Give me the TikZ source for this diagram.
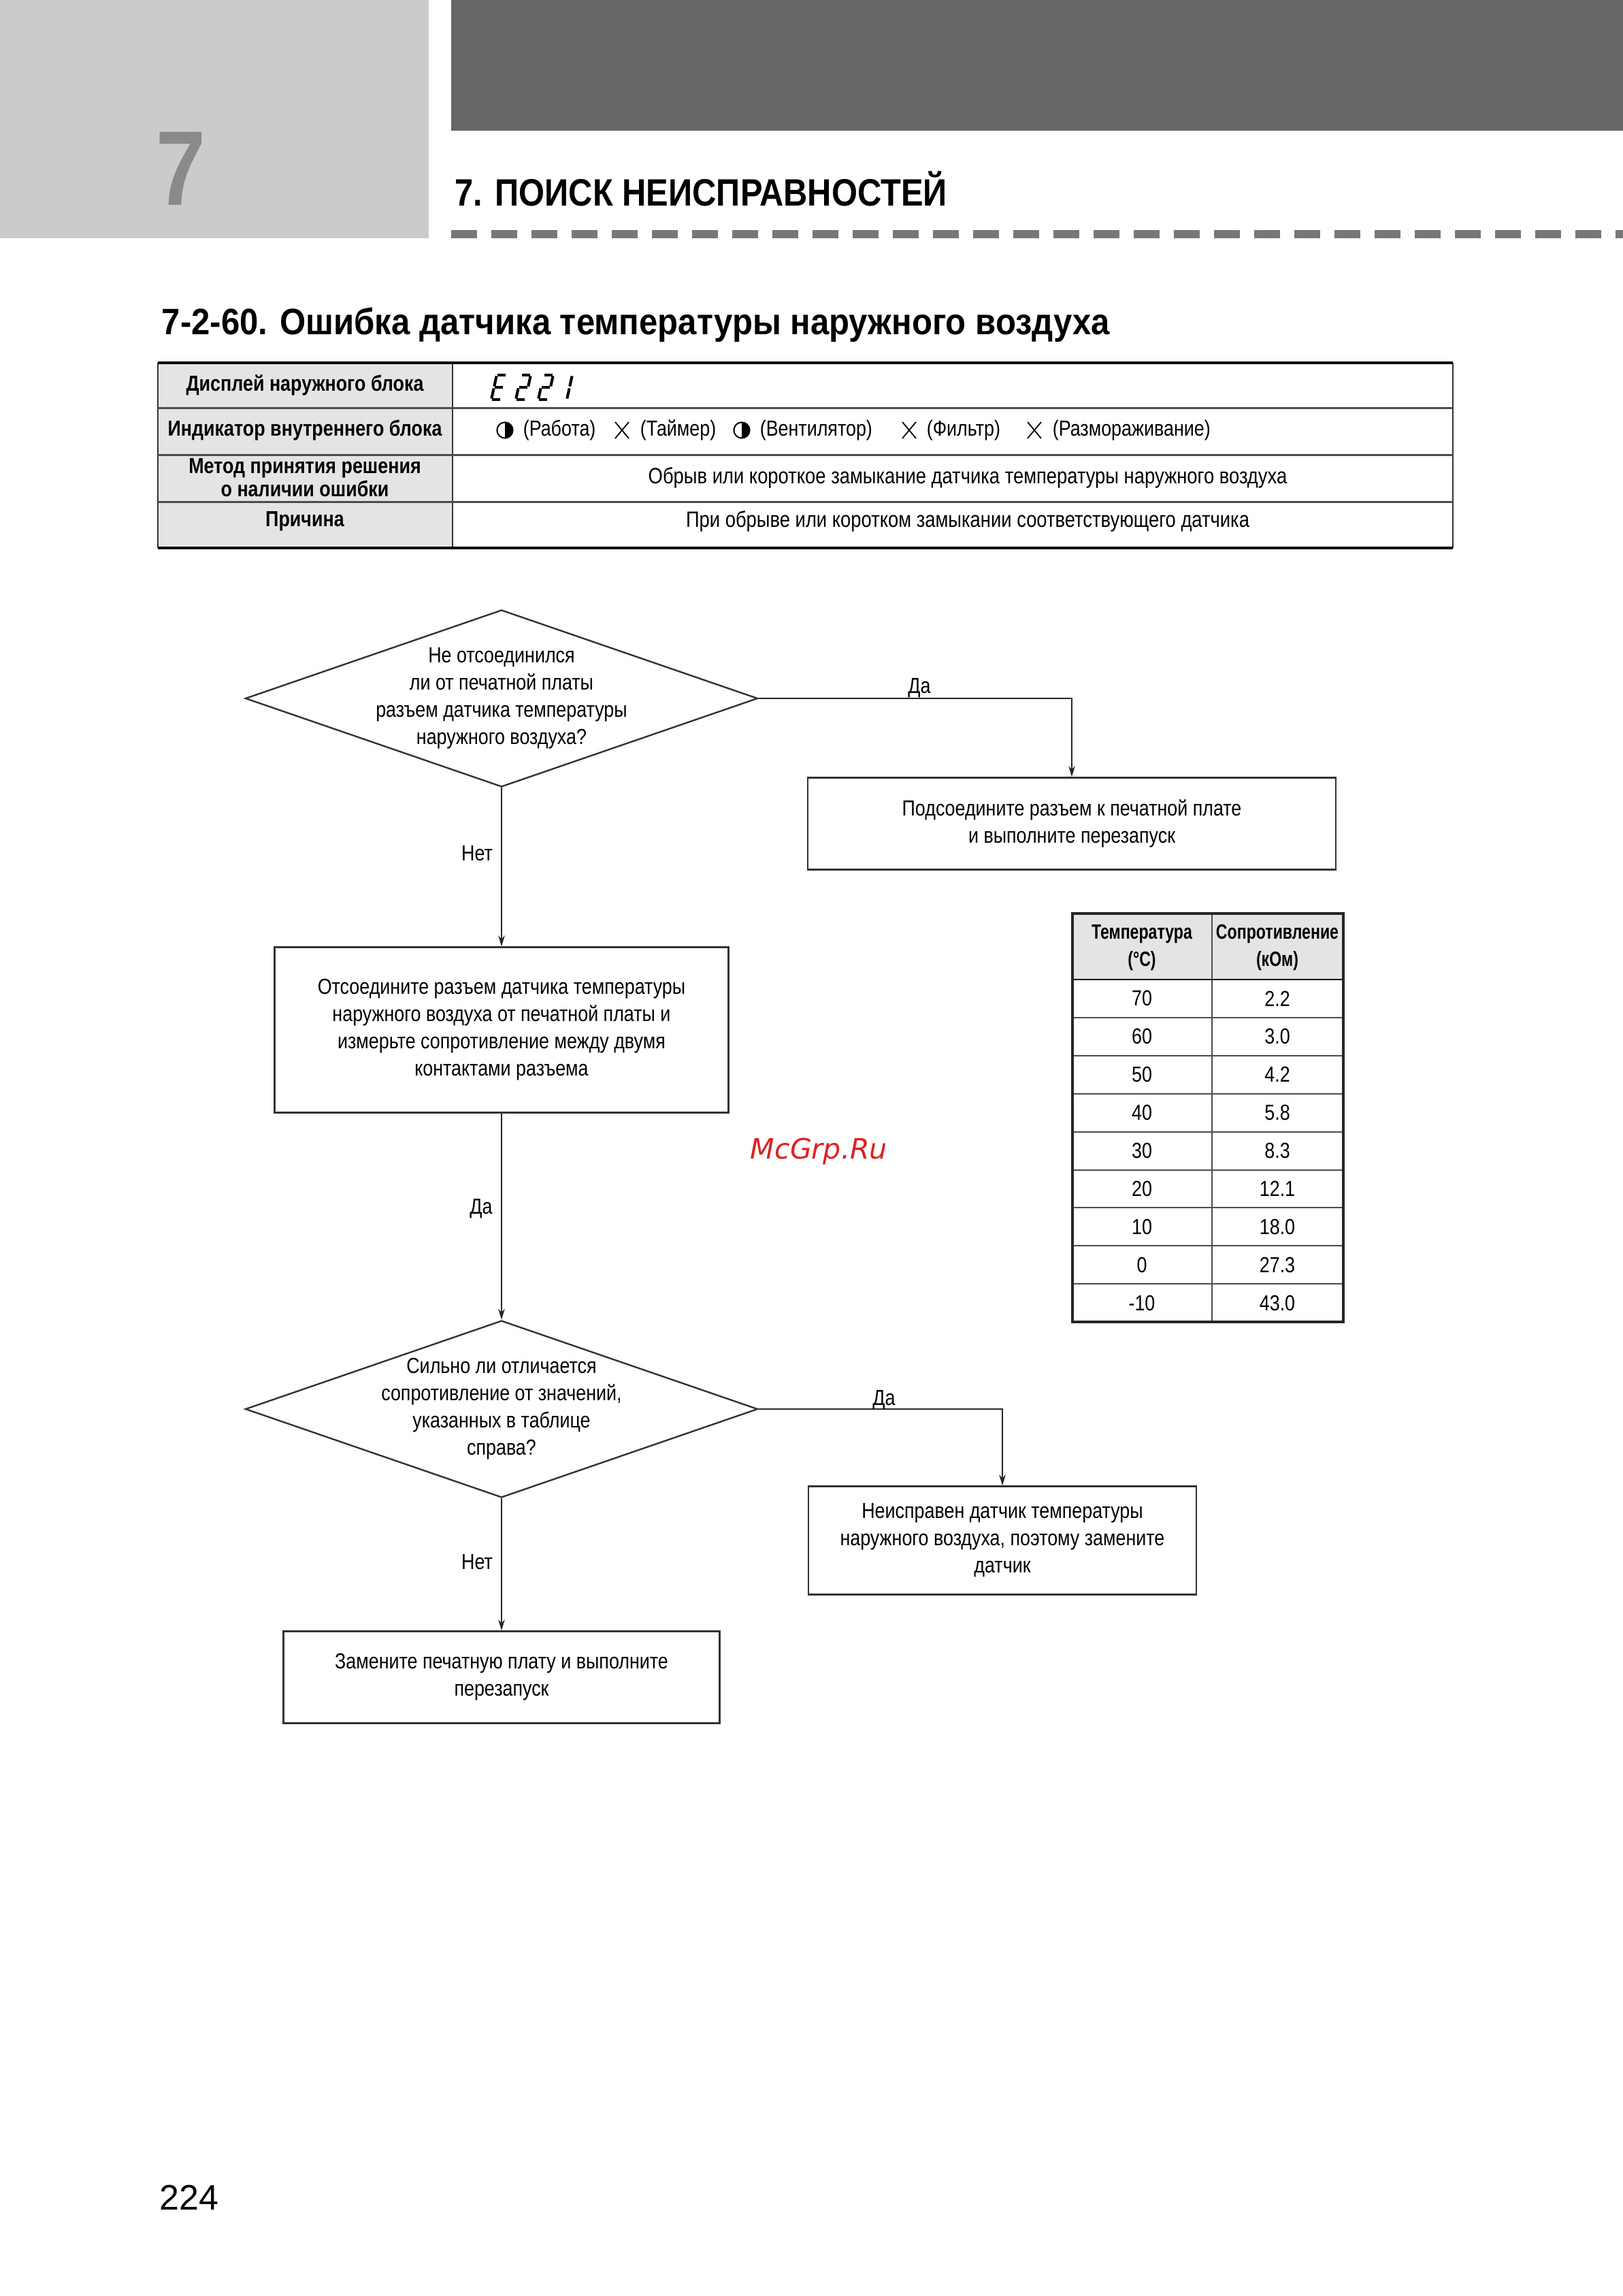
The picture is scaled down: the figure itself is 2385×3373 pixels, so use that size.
\documentclass[tikz,border=0pt]{standalone}
\usepackage{fontspec}
\usepackage{graphicx}
\setmainfont{Liberation Sans}
\newfontfamily\cond{Liberation Sans}[FakeStretch=0.84]
\newfontfamily\condx{Liberation Sans}[FakeStretch=0.76]
\newfontfamily\wmfont{DejaVu Sans}
\usetikzlibrary{shapes.geometric,arrows.meta}
\newlength\px
\setlength\px{0.25pt}
\definecolor{lightgr}{HTML}{CBCBCB}
\definecolor{darkgr}{HTML}{666666}
\definecolor{numgr}{HTML}{8A8A8A}
\definecolor{dashgr}{HTML}{777777}
\definecolor{hdrgr}{HTML}{E4E4E4}
\definecolor{wmred}{HTML}{DD2222}
\newcommand\digitE[1]{\begin{scope}[shift={(#1,587)},xslant=0.22]
 \draw[seg] (0,-36)--(14,-36); \draw[seg] (0,-36)--(0,-18); \draw[seg] (0,-18)--(14,-18);
 \draw[seg] (0,-18)--(0,0); \draw[seg] (0,0)--(14,0); \end{scope}}
\newcommand\digitTwo[1]{\begin{scope}[shift={(#1,587)},xslant=0.22]
 \draw[seg] (0,-36)--(14,-36); \draw[seg] (14,-36)--(14,-18); \draw[seg] (0,-18)--(14,-18);
 \draw[seg] (0,-18)--(0,0); \draw[seg] (0,0)--(14,0); \end{scope}}
\newcommand\digitOne[1]{\begin{scope}[shift={(#1,587)},xslant=0.22]
 \draw[seg] (14,-36)--(14,-18); \draw[seg] (14,-18)--(14,0); \end{scope}}
\newcommand\halfc[1]{\draw[line width=0.5pt] (#1,632) circle[radius=2.9pt];
 \fill (#1,620.4) arc[start angle=90,end angle=-90,radius=2.9pt] -- cycle;}
\newcommand\crossm[1]{\draw[line width=0.45pt] (#1-10,620)--(#1+10,644) (#1-10,644)--(#1+10,620);}
\begin{document}
\begin{tikzpicture}[x=0.25pt,y=-0.25pt,
  txt/.style={font=\cond\fontsize{8}{10}\selectfont, align=center, inner sep=0},
  wtxt/.style={font=\cond\fontsize{8.15}{10}\selectfont, align=center, inner sep=0},
  btxt/.style={font=\cond\bfseries\fontsize{8}{7}\selectfont, align=center, inner sep=0},
  htxt/.style={font=\condx\bfseries\fontsize{7.6}{10}\selectfont, align=center, inner sep=0},
  fbox/.style={draw=black!80, line width=0.6pt, inner sep=0, align=center, font=\cond\fontsize{8}{10}\selectfont},
  dia/.style={diamond, draw=black!80, line width=0.6pt, inner sep=0},
  arr/.style={draw=black!85, line width=0.5pt, -{Stealth[length=4pt,width=2.4pt]}},
  seg/.style={line width=1pt, shorten <=0.35pt, shorten >=0.35pt},
  rowline/.style={draw=black!70, line width=0.75pt},
  tblin/.style={draw=black!70, line width=0.5pt},
]
\useasboundingbox (0,0) rectangle (2385,3373);
% header
\fill[lightgr] (0,0) rectangle (630,350);
\fill[darkgr] (663,0) rectangle (2385,192);
\node[anchor=base, text=numgr, font=\cond\bfseries\fontsize{39}{39}\selectfont, inner sep=0] (chapnum) at (266,301) {7};
\node[anchor=base west, inner sep=0, font=\bfseries\fontsize{14}{14}\selectfont] (chaptitle) at (668,302) {\resizebox{723\px}{\height}{7. ПОИСК НЕИСПРАВНОСТЕЙ}};
\draw[dashgr, line width=3pt, dash pattern=on 9.5pt off 5.25pt] (663,344) -- (2385,344);
% section title
\node[anchor=base west, inner sep=0, font=\bfseries\fontsize{13.5}{14}\selectfont] (sectitle) at (237,491) {\resizebox{1393\px}{\height}{7-2-60. Ошибка датчика температуры наружного воздуха}};
% info table
\fill[hdrgr] (232,533) rectangle (665,805);
\draw[line width=0.5pt, black!80] (232,533) -- (232,805) (665,533) -- (665,805) (2135,533) -- (2135,805);
\draw[rowline] (232,599) -- (2135,599) (232,668) -- (2135,668) (232,737) -- (2135,737);
\draw[line width=1.1pt] (232,533) -- (2135,533) (232,805) -- (2135,805);
\node[btxt] (l1) at (448,566) {Дисплей наружного блока};
\node[btxt] (l2) at (448,632) {Индикатор внутреннего блока};
\node[btxt] (l3) at (448,702) {Метод принятия решения\\о наличии ошибки};
\node[btxt] (l4) at (448,766) {Причина};
\digitE{722}
\digitTwo{758}
\digitTwo{791}
\digitOne{819}
\halfc{742}
\node[txt, anchor=west] (s1) at (768,632) {(Работа)};
\crossm{914}
\node[txt, anchor=west] (s2) at (940,632) {(Таймер)};
\halfc{1090}
\node[txt, anchor=west] (s3) at (1116,632) {(Вентилятор)};
\crossm{1336}
\node[txt, anchor=west] (s4) at (1361,632) {(Фильтр)};
\crossm{1520}
\node[txt, anchor=west] (s5) at (1546,632) {(Размораживание)};
\node[wtxt] (r3) at (1422,702) {Обрыв или короткое замыкание датчика температуры наружного воздуха};
\node[wtxt] (r4) at (1422,766) {При обрыве или коротком замыкании соответствующего датчика};
% flowchart
\node[dia, minimum width=188.25pt, minimum height=65pt] (d1) at (737,1026) {};
\node[txt] (d1t) at (d1.center) {Не отсоединился\\ли от печатной платы\\разъем датчика температуры\\наружного воздуха?};
\node[fbox, minimum width=194pt, minimum height=33.75pt] (b1) at (1575,1210) {Подсоедините разъем к печатной плате\\и выполните перезапуск};
\node[fbox, minimum width=166.75pt, minimum height=60.75pt] (b2) at (737,1513) {Отсоедините разъем датчика температуры\\наружного воздуха от печатной платы и\\измерьте сопротивление между двумя\\контактами разъема};
\node[dia, minimum width=188.25pt, minimum height=65pt] (d2) at (737,2070) {};
\node[txt] (d2t) at (d2.center) {Сильно ли отличается\\сопротивление от значений,\\указанных в таблице\\справа?};
\node[fbox, minimum width=142.5pt, minimum height=39.75pt] (b3) at (1473,2263) {Неисправен датчик температуры\\наружного воздуха, поэтому замените\\датчик};
\node[fbox, minimum width=160.25pt, minimum height=33.75pt] (b4) at (737,2464) {Замените печатную плату и выполните\\перезапуск};
\draw[arr] (d1.east) -| (b1.north);
\draw[arr] (d1.south) -- (b2.north);
\draw[arr] (b2.south) -- (d2.north);
\draw[arr] (d2.east) -| (b3.north);
\draw[arr] (d2.south) -- (b4.north);
\node[txt] (y1) at (1351,1011) {Да};
\node[txt] (n1) at (701,1254) {Нет};
\node[txt] (y2) at (707,1776) {Да};
\node[txt] (y3) at (1299,2057) {Да};
\node[txt] (n2) at (701,2295) {Нет};
% resistance table
\fill[hdrgr] (1576,1342) rectangle (1974,1439);
\foreach \k in {1,...,8} \draw[tblin] (1576,{1439+55.9*\k}) -- (1974,{1439+55.9*\k});
\draw[tblin] (1781,1342) -- (1781,1942);
\draw[line width=0.7pt] (1576,1439) -- (1974,1439);
\draw[line width=0.9pt, black!85] (1576,1342) rectangle (1974,1942);
\node[htxt] (th1) at (1678,1392) {Температура\\(°C)};
\node[htxt] (th2) at (1877,1392) {Сопротивление\\(кОм)};
\foreach \t/\r [count=\i] in {70/2.2,60/3.0,50/4.2,40/5.8,30/8.3,20/12.1,10/18.0,0/27.3,-10/43.0} {
  \node[txt] (tt\i) at (1678,{1439+55.9*(\i-0.5)}) {\t};
  \node[txt] (tr\i) at (1877,{1439+55.9*(\i-0.5)}) {\r};
}
% watermark
\node[anchor=base west, font=\wmfont\itshape\fontsize{10.3}{12}\selectfont, text=wmred, inner sep=0] (wm) at (1102,1702) {McGrp.Ru};
% page number
\node[anchor=base west, font=\fontsize{13}{13}\selectfont, inner sep=0] (pagenum) at (234,3246) {224};
\end{tikzpicture}
\end{document}
